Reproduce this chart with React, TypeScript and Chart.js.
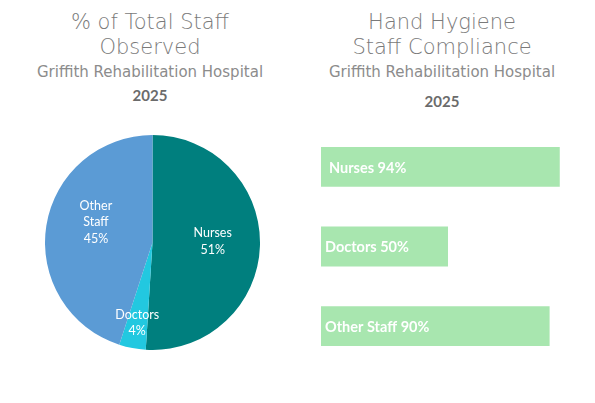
import React, { useEffect, useRef } from "react";
import { Chart, registerables } from "chart.js";

Chart.register(...registerables);

const pieCategories = ["Nurses", "Doctors", "Other Staff"];
const pieValues = [51, 4, 45];
const pieColors = ["#007F7E", "#22C8E0", "#5B9BD5"];

const barCategories = ["Nurses", "Doctors", "Other Staff"];
const barValues = [94, 50, 90];
const barColor = "#A8E6AF";

const leftTitle = ["% of Total Staff", "Observed"];
const rightTitle = ["Hand Hygiene", "Staff Compliance"];
const subTitle = "Griffith Rehabilitation Hospital";
const yearLabel = "2025";

const labelFont = "Lato, 'Open Sans', sans-serif";

const pieLabelPlugin = {
  id: "pieLabels",
  afterDatasetsDraw(chart: any) {
    const ctx = chart.ctx;
    const meta = chart.getDatasetMeta(0);
    const total = pieValues.reduce((a, b) => a + b, 0);
    ctx.save();
    ctx.fillStyle = "#ffffff";
    ctx.font = `12.5px ${labelFont}`;
    ctx.textAlign = "center";
    ctx.textBaseline = "middle";
    meta.data.forEach((arc: any, i: number) => {
      const { x, y, startAngle, endAngle, outerRadius } = arc.getProps(
        ["x", "y", "startAngle", "endAngle", "outerRadius"],
        true
      );
      const share = pieValues[i] / total;
      let mid = (startAngle + endAngle) / 2;
      // best-fit style placement: larger left slices pushed slightly upward
      if (share >= 0.1 && Math.cos(mid) < 0) mid += 0.19;
      if (share >= 0.1 && Math.cos(mid) > 0) mid -= 0.05;
      const frac = share < 0.1 ? 0.76 : 0.56;
      const cx = x + Math.cos(mid) * outerRadius * frac;
      const cy = y + Math.sin(mid) * outerRadius * frac;
      const words = pieCategories[i].split(" ");
      const lines = [...words, `${Math.round(share * 100)}%`];
      const lh = 16.5;
      const start = cy - ((lines.length - 1) * lh) / 2;
      lines.forEach((l, k) => ctx.fillText(l, cx, start + k * lh));
    });
    ctx.restore();
  },
};

const barLabelPlugin = {
  id: "barLabels",
  afterDatasetsDraw(chart: any) {
    const ctx = chart.ctx;
    const meta = chart.getDatasetMeta(0);
    ctx.save();
    ctx.fillStyle = "#ffffff";
    ctx.font = `bold 14.5px ${labelFont}`;
    ctx.textAlign = "left";
    ctx.textBaseline = "middle";
    meta.data.forEach((bar: any, i: number) => {
      const pad = i === 0 ? 8 : 4;
      ctx.fillText(`${barCategories[i]} ${barValues[i]}%`, bar.base + pad, bar.y + 1);
    });
    ctx.restore();
  },
};

const titleFont = "'DejaVu Sans', sans-serif";

function TitleBlock({ left, width, lines, yearTop }: any) {
  const base: React.CSSProperties = {
    position: "absolute",
    left,
    width,
    textAlign: "center",
    whiteSpace: "nowrap",
  };
  return (
    <>
      <div style={{ ...base, top: 10, fontFamily: titleFont, fontWeight: 300, fontSize: 21, lineHeight: "25px", color: "#7a7a7a" }}>
        {lines[0]}
        <br />
        {lines[1]}
      </div>
      <div style={{ ...base, top: 63, fontFamily: titleFont, fontSize: 15, lineHeight: "19px", color: "#8c8c8c" }}>
        {subTitle}
      </div>
      <div style={{ ...base, top: yearTop, fontFamily: labelFont, fontWeight: 700, fontSize: 15, lineHeight: "18px", color: "#6b6b6b" }}>
        {yearLabel}
      </div>
    </>
  );
}

export default function App() {
  const pieRef = useRef<HTMLCanvasElement>(null);
  const barRef = useRef<HTMLCanvasElement>(null);

  useEffect(() => {
    document.body.style.margin = "0";
    const pie = new Chart(pieRef.current as HTMLCanvasElement, {
      type: "pie",
      data: {
        labels: pieCategories,
        datasets: [
          {
            data: pieValues,
            backgroundColor: pieColors,
            borderWidth: 0,
          },
        ],
      },
      options: {
        animation: false,
        responsive: false,
        maintainAspectRatio: false,
        layout: { padding: 0 },
        plugins: { legend: { display: false }, tooltip: { enabled: false } },
      },
      plugins: [pieLabelPlugin],
    });
    const bar = new Chart(barRef.current as HTMLCanvasElement, {
      type: "bar",
      data: {
        labels: barCategories,
        datasets: [
          {
            data: barValues,
            backgroundColor: barColor,
            borderWidth: 0,
            categoryPercentage: 1,
            barPercentage: 0.5,
          },
        ],
      },
      options: {
        indexAxis: "y",
        animation: false,
        responsive: false,
        maintainAspectRatio: false,
        layout: { padding: 0 },
        scales: {
          x: { display: false, min: 0, max: 100 },
          y: { display: false },
        },
        plugins: { legend: { display: false }, tooltip: { enabled: false } },
      },
      plugins: [barLabelPlugin],
    });
    return () => {
      pie.destroy();
      bar.destroy();
    };
  }, []);

  return (
    <div style={{ position: "relative", width: 595, height: 403, background: "#fff", overflow: "hidden" }}>
      <TitleBlock left={0} width={300} lines={leftTitle} yearTop={86} />
      <TitleBlock left={292} width={300} lines={rightTitle} yearTop={92} />
      <canvas
        ref={pieRef}
        width={215}
        height={215}
        style={{ position: "absolute", left: 45, top: 135, width: 215, height: 215 }}
      />
      <canvas
        ref={barRef}
        width={254}
        height={239}
        style={{ position: "absolute", left: 321, top: 127, width: 254, height: 239 }}
      />
    </div>
  );
}
